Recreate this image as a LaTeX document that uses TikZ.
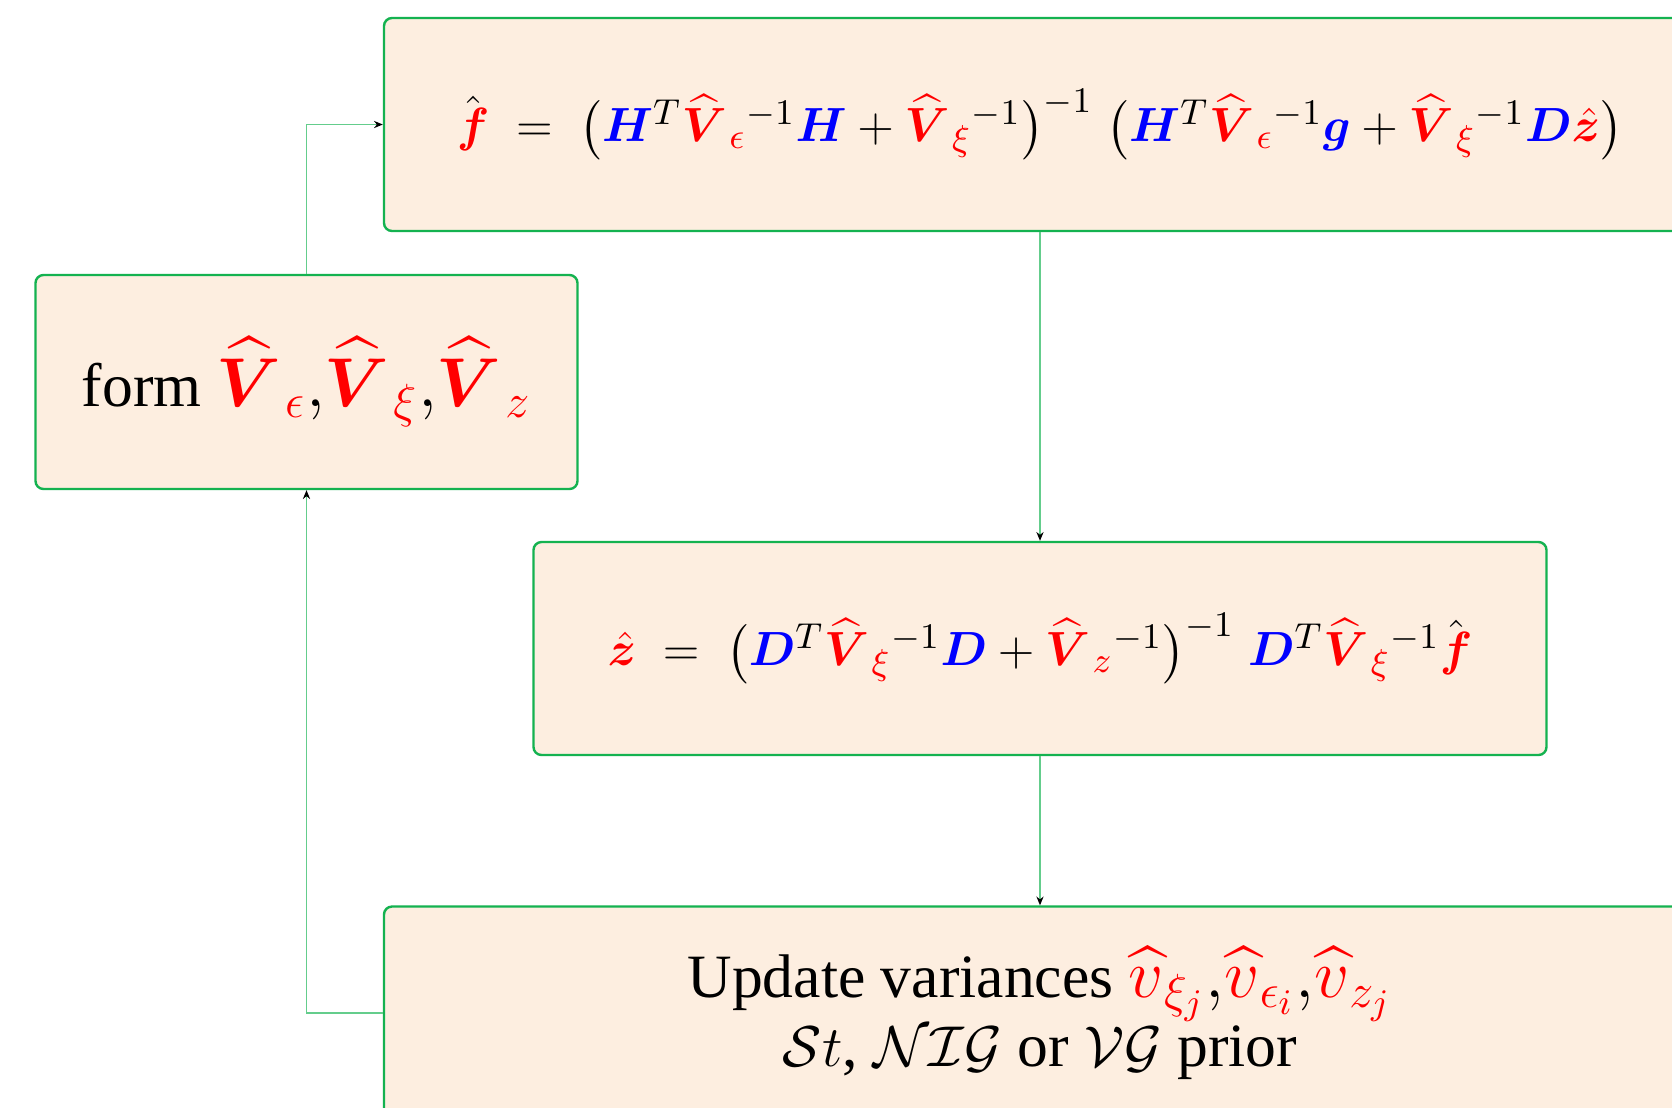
\documentclass[tikz,border=0pt]{standalone}
\usepackage{amsmath,amssymb,bm}
\usepackage{fontspec}
\setmainfont{Liberation Serif}
\usetikzlibrary{arrows.meta}
\definecolor{boxfill}{RGB}{253,238,224}
\definecolor{boxline}{RGB}{20,178,80}
\definecolor{connc}{RGB}{100,205,140}
\newcommand{\myred}[1]{\textcolor{red}{#1}}
\newcommand{\myblue}[1]{\textcolor{blue}{#1}}
\newcommand{\VV}[1]{\myred{\widehat{\bm V}\mkern1mu{}_{#1}}}
\newcommand{\vv}[1]{\myred{\widehat{v}{}_{#1}}}
\newcommand{\fhat}{\hat{\myred{\bm f}}}
\tikzset{
  flowbox/.style={draw=boxline, fill=boxfill, line width=0.6pt, rounded corners=2pt, inner sep=0pt, align=center},
  conn/.style={draw=connc, line width=0.35pt, -{Stealth[black,length=2.2pt,width=1.8pt]}},
}
\begin{document}
\begin{tikzpicture}[x=0.25pt,y=-0.25pt]
\clip (0,0) rectangle (1672,1107);
\fill[white] (0,0) rectangle (1672,1107);
\node[flowbox, minimum width=328pt, minimum height=53.25pt] (top) at (1040,124.5)
  {\fontsize{12.4}{15}\selectfont
   $\fhat\;=\;\bigl(\myblue{\bm H}^{T}\VV{\epsilon}{}^{-1}\myblue{\bm H}+\VV{\xi}{}^{-1}\bigr)^{-1}\;\bigl(\myblue{\bm H}^{T}\VV{\epsilon}{}^{-1}\myblue{\bm g}+\VV{\xi}{}^{-1}\myblue{\bm D}\myred{\hat{\bm z}}\bigr)$};
\node[flowbox, minimum width=135.5pt, minimum height=53.5pt] (left) at (306.5,382)
  {\fontsize{15.4}{19}\selectfont form {\fontsize{18.8}{23}\selectfont$\VV{\epsilon}{,}\VV{\xi}{,}\VV{z}$}};
\node[flowbox, minimum width=253.25pt, minimum height=53.25pt] (mid) at (1040,648.5)
  {\fontsize{12.4}{15}\selectfont
   $\myred{\hat{\bm z}}\;=\;\bigl(\myblue{\bm D}^{T}\VV{\xi}{}^{-1}\myblue{\bm D}+\VV{z}{}^{-1}\bigr)^{-1}\;\myblue{\bm D}^{T}\VV{\xi}{}^{-1}\fhat$};
\node[flowbox, minimum width=328pt, minimum height=53.25pt] (bot) at (1040,1013)
  {\fontsize{15.4}{18.5}\selectfont Update variances {\fontsize{17.5}{18.5}\selectfont$\vv{\xi_j}{,}\vv{\epsilon_i}{,}\vv{z_j}$}\\
   \fontsize{15.4}{18.5}\selectfont $\mathcal{S}t$, $\mathcal{NIG}$ or $\mathcal{VG}$ prior};
\draw[conn] (top.south) -- (mid.north);
\draw[conn] (mid.south) -- (bot.north);
\draw[conn] (bot.west) -| (left.south);
\draw[conn] (left.north) |- (top.west);
\end{tikzpicture}
\end{document}
